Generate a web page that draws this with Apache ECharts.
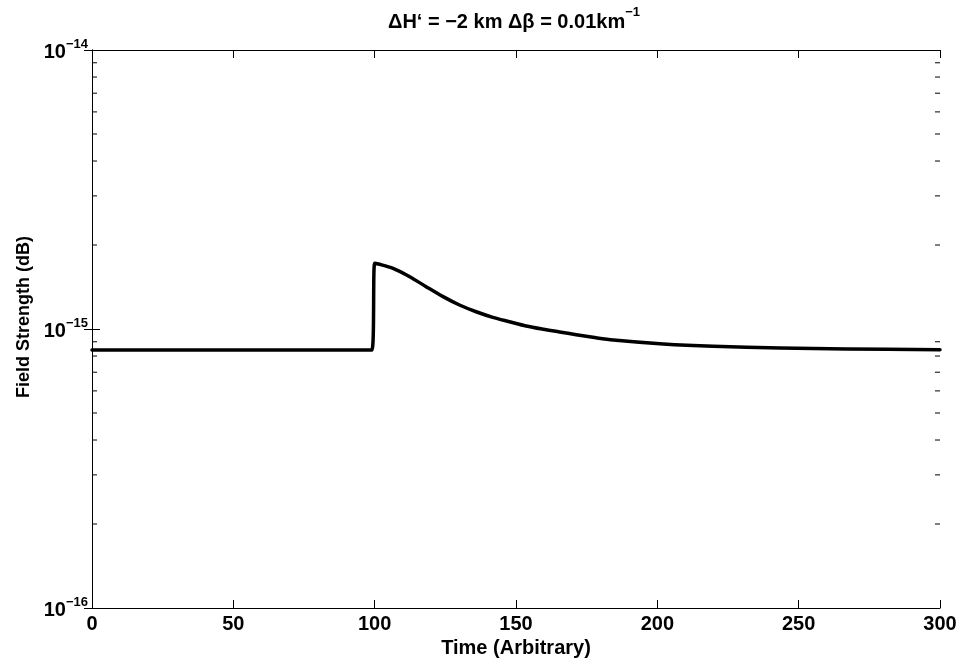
<!DOCTYPE html>
<html>
<head>
<meta charset="utf-8">
<script src="https://cdn.jsdelivr.net/npm/echarts@6/dist/echarts.min.js"></script>
<style>
html,body{margin:0;padding:0;background:#fff;}
#chart{width:963px;height:667px;}
</style>
</head>
<body>
<div id="chart"></div>
<script>
// ---- data ----
const timeValues = [0, 99, 100, 101.3, 106.5, 112.4, 118.2, 124.2, 130, 135.9, 141.8, 147.7, 153.6, 159.6, 165.4, 171.3, 177.2, 184.4, 202.1, 219.8, 243.4, 267, 300];
const fieldValues = [8.41e-16, 8.41e-16, 1.72e-15, 1.71e-15, 1.65e-15, 1.54e-15, 1.418e-15, 1.306e-15, 1.219e-15, 1.153e-15, 1.101e-15, 1.062e-15, 1.025e-15, 0.998e-15, 0.976e-15, 0.954e-15, 0.934e-15, 0.913e-15, 0.884e-15, 0.867e-15, 0.855e-15, 0.848e-15, 0.843e-15];
const xTicks = [0, 50, 100, 150, 200, 250, 300];
const yMin = 1e-16, yMax = 1e-14;
const minorTickValues = [2e-16,3e-16,4e-16,5e-16,6e-16,7e-16,8e-16,9e-16,2e-15,3e-15,4e-15,5e-15,6e-15,7e-15,8e-15,9e-15];
const titleMain = 'ΔH‘ = −2 km Δβ = 0.01km';
const titleSup = '−1';
const xName = 'Time (Arbitrary)';
const yName = 'Field Strength (dB)';

const FONT = '"Liberation Sans", Arial, Helvetica, sans-serif';
const chart = echarts.init(document.getElementById('chart'), null, {renderer: 'canvas'});

const xMin = xTicks[0], xMax = xTicks[xTicks.length - 1];
const xInterval = xTicks[1] - xTicks[0];

function yLabel(v) {
  const e = Math.round(Math.log10(v));
  return '{b|10}{s|' + (e < 0 ? '\u2212' : '') + Math.abs(e) + '}';
}
const yRich = {
  b: {fontSize: 20, fontWeight: 'bold', fontFamily: FONT, color: '#000', verticalAlign: 'bottom', lineHeight: 24},
  s: {fontSize: 13, fontWeight: 'bold', fontFamily: FONT, color: '#000', verticalAlign: 'top', lineHeight: 24, padding: [0, 0, 8, 0]}
};

const axisLineStyle = {show: true, lineStyle: {color: '#000', width: 1}};

const option = {
  animation: false,
  backgroundColor: '#fff',
  title: {
    text: '{t|' + titleMain + '}{s|' + titleSup + '}',
    left: 388,
    top: 6,
    textAlign: 'left',
    padding: 0,
    textStyle: {
      rich: {
        t: {fontSize: 20, fontWeight: 'bold', fontFamily: FONT, color: '#000', verticalAlign: 'bottom', lineHeight: 26},
        s: {fontSize: 13, fontWeight: 'bold', fontFamily: FONT, color: '#000', verticalAlign: 'top', lineHeight: 26, padding: [0,0,8,0]}
      }
    }
  },
  grid: {left: 92, right: 23, top: 50, bottom: 59, containLabel: false},
  xAxis: [
    {
      type: 'value', min: xMin, max: xMax, interval: xInterval, position: 'bottom',
      name: xName, nameLocation: 'middle', nameGap: 30,
      nameTextStyle: {fontSize: 20, fontWeight: 'bold', fontFamily: FONT, color: '#000'},
      axisLine: axisLineStyle,
      axisTick: {show: true, inside: true, length: 8, lineStyle: {color: '#000'}},
      axisLabel: {fontSize: 20, fontWeight: 'bold', fontFamily: FONT, color: '#000', margin: 6},
      splitLine: {show: false}
    },
    {
      type: 'value', min: xMin, max: xMax, interval: xInterval, position: 'top',
      axisLine: axisLineStyle,
      axisTick: {show: true, inside: true, length: 8, lineStyle: {color: '#000'}},
      axisLabel: {show: false},
      splitLine: {show: false}
    }
  ],
  yAxis: [
    {
      type: 'log', logBase: 10, min: yMin, max: yMax, position: 'left',
      name: yName, nameLocation: 'middle', nameGap: 58, nameRotate: 90,
      nameTextStyle: {fontSize: 18, fontWeight: 'bold', fontFamily: FONT, color: '#000', padding: [0, 0, 0, 24]},
      axisLine: axisLineStyle,
      axisTick: {show: true, inside: true, length: 8, lineStyle: {color: '#000'}},
      axisLabel: {formatter: yLabel, rich: yRich, margin: 4, showMinLabel: true, showMaxLabel: true},
      splitLine: {show: false}
    },
    {
      type: 'log', logBase: 10, min: yMin, max: yMax, position: 'right',
      axisLine: axisLineStyle,
      axisTick: {show: true, inside: true, length: 8, lineStyle: {color: '#000'}},
      axisLabel: {show: false},
      splitLine: {show: false}
    }
  ],
  series: [
    {
      type: 'line',
      data: timeValues.map((t, i) => [t, fieldValues[i]]),
      showSymbol: false,
      symbol: 'none',
      lineStyle: {color: '#000', width: 3.5, join: 'round', cap: 'round'},
      smooth: 0.3,
      z: 5
    },
    {
      type: 'custom',
      coordinateSystem: 'cartesian2d',
      data: minorTickValues.map(v => [xMin, v]),
      silent: true,
      clip: false,
      renderItem: function (params, api) {
        const v = api.value(1);
        const pL = api.coord([xMin, v]);
        const pR = api.coord([xMax, v]);
        return {
          type: 'group',
          children: [
            {type: 'line', shape: {x1: pL[0], y1: pL[1], x2: pL[0] + 5, y2: pL[1]}, style: {stroke: '#000', lineWidth: 1}},
            {type: 'line', shape: {x1: pR[0], y1: pR[1], x2: pR[0] - 5, y2: pR[1]}, style: {stroke: '#000', lineWidth: 1}}
          ]
        };
      },
      z: 3
    }
  ]
};
chart.setOption(option);
</script>
</body>
</html>
